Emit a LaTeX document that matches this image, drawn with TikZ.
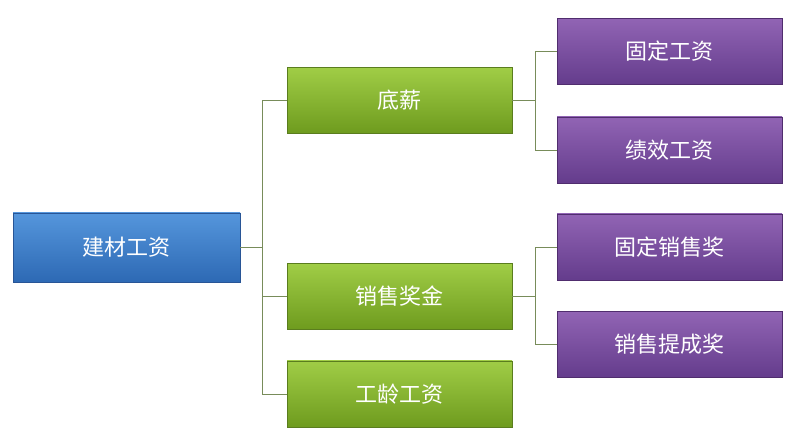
\documentclass[tikz,border=0pt]{standalone}
\usepackage{fontspec}
\setmainfont{Noto Sans CJK SC}
\definecolor{bdr}{RGB}{40,85,150}
\definecolor{btop}{RGB}{85,150,220}
\definecolor{bbot}{RGB}{45,105,180}
\definecolor{gdr}{RGB}{90,125,30}
\definecolor{gtop}{RGB}{160,205,70}
\definecolor{gbot}{RGB}{110,155,30}
\definecolor{pdr}{RGB}{80,45,110}
\definecolor{ptop}{RGB}{145,100,180}
\definecolor{pbot}{RGB}{100,60,140}
\definecolor{cn}{RGB}{120,140,90}
\begin{document}
\begin{tikzpicture}[x=1pt,y=-1pt,
 box/.style={draw=#1,line width=0.8pt,minimum width=225pt,minimum height=66pt,text=white,font=\fontsize{22}{24}\selectfont,inner sep=0pt},
 bluebox/.style={box=bdr,top color=btop,bottom color=bbot,minimum width=227pt,minimum height=69pt},
 greenbox/.style={box=gdr,top color=gtop,bottom color=gbot},
 purplebox/.style={box=pdr,top color=ptop,bottom color=pbot},
 conn/.style={draw=cn,line width=0.8pt}]
\useasboundingbox (0,0) rectangle (804,435);
\node[bluebox] (root) at (126.5,247.5) {建材工资};
\node[greenbox] (g1) at (399.5,100.5) {底薪};
\node[greenbox] (g2) at (399.5,296.5) {销售奖金};
\node[greenbox] (g3) at (399.5,394) {工龄工资};
\node[purplebox] (p1) at (669.5,51.5) {固定工资};
\node[purplebox] (p2) at (669.5,150) {绩效工资};
\node[purplebox] (p3) at (669.5,247) {固定销售奖};
\node[purplebox] (p4) at (669.5,344.5) {销售提成奖};
\coordinate (t1) at (262,247.5);
\coordinate (t2) at (535,100.5);
\coordinate (t3) at (535,296.5);
\draw[conn] (root.east) -- (t1);
\foreach \g in {g1,g2,g3} \draw[conn] (t1) |- (\g.west);
\draw[conn] (g1.east) -- (t2);
\foreach \p in {p1,p2} \draw[conn] (t2) |- (\p.west);
\draw[conn] (g2.east) -- (t3);
\foreach \p in {p3,p4} \draw[conn] (t3) |- (\p.west);
\end{tikzpicture}
\end{document}
